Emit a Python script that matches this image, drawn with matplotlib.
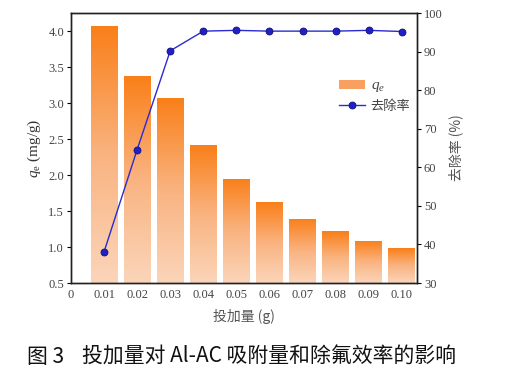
import numpy as np
import matplotlib
matplotlib.use("Agg")
import matplotlib.pyplot as plt
from matplotlib.colors import LinearSegmentedColormap
from matplotlib.patches import Patch
from matplotlib.lines import Line2D

dose = [0.01, 0.02, 0.03, 0.04, 0.05, 0.06, 0.07, 0.08, 0.09, 0.10]
qe = [4.07, 3.38, 3.07, 2.42, 1.95, 1.62, 1.39, 1.22, 1.09, 0.98]
removal = [38.1, 64.6, 90.2, 95.3, 95.5, 95.3, 95.3, 95.3, 95.5, 95.2]
xticks = [0, 0.01, 0.02, 0.03, 0.04, 0.05, 0.06, 0.07, 0.08, 0.09, 0.10]
xticklabels = ["0", "0.01", "0.02", "0.03", "0.04", "0.05", "0.06", "0.07", "0.08", "0.09", "0.10"]
left_ticks = [0.5, 1.0, 1.5, 2.0, 2.5, 3.0, 3.5, 4.0]
right_ticks = [30, 40, 50, 60, 70, 80, 90, 100]

plt.rcParams["mathtext.fontset"] = "custom"
plt.rcParams["mathtext.rm"] = "Liberation Serif"
plt.rcParams["mathtext.it"] = "Liberation Serif:italic"

serif = ["Liberation Serif", "Noto Sans CJK SC"]
cjk = ["Noto Sans CJK SC", "Liberation Serif"]
tcol = "#444444"

fig = plt.figure(figsize=(5.08, 3.76), dpi=100)
ax = fig.add_axes([71/508, 1 - 283/376, (417-71)/508, (283-13)/376])
ax.set_xlim(0, 0.1046)
ax.set_ylim(0.5, 4.25)

cmap = LinearSegmentedColormap.from_list("og", ["#FBD5BA", "#F9B380", "#FA7F18"])
grad = np.linspace(0, 1, 256).reshape(-1, 1)
bars = ax.bar(dose, qe, width=0.0081, bottom=0, color="none", edgecolor="none")
for b in bars:
    x0, y0 = b.get_x(), 0.5
    w, h = b.get_width(), b.get_height()
    im = ax.imshow(grad, cmap=cmap, aspect="auto", origin="lower",
                   extent=[x0, x0 + w, y0, h], zorder=1)
    im.set_clip_path(b)

ax.set_xticks(xticks)
ax.set_xticklabels(xticklabels, family=serif, fontsize=9, color=tcol)
ax.set_yticks(left_ticks)
ax.set_yticklabels([f"{v:.1f}" for v in left_ticks], family=serif, fontsize=9, color=tcol)
ax.tick_params(axis="x", length=0, pad=4)
ax.tick_params(axis="y", length=3, width=0.8, direction="out", pad=2)
ax.set_xlabel("投加量 (g)", family=cjk, fontsize=10, color="#555555", labelpad=6)
ax.set_ylabel(r"$q_\mathrm{e}$ (mg/g)", family=serif, fontsize=11, color="#333333", labelpad=4)
for s in ax.spines.values():
    s.set_linewidth(1.0)
    s.set_color("#222222")

ax2 = ax.twinx()
ax2.set_ylim(30, 100)
ax2.plot(dose, removal, color="#2b2bd0", lw=1.0, marker="o", ms=5,
         mfc="#2020c8", mec="#10107a", mew=0.6, zorder=5)
ax2.set_yticks(right_ticks)
ax2.set_yticklabels([str(v) for v in right_ticks], family=serif, fontsize=9, color=tcol)
ax2.tick_params(axis="y", length=3, width=0.8, direction="out", pad=2)
ax2.set_ylabel("去除率 (%)", family=cjk, fontsize=10, color="#555555", labelpad=4)
for s in ax2.spines.values():
    s.set_linewidth(1.0)
    s.set_color("#222222")

handles = [Patch(facecolor="#F9A060", edgecolor="none"),
           Line2D([0], [0], color="#2b2bd0", lw=1.0, marker="o", ms=5,
                  mfc="#2020c8", mec="#10107a", mew=0.6)]
leg = ax2.legend(handles, [r"$q_e$", "去除率"], loc="upper left",
                 bbox_to_anchor=(0.74, 0.81), frameon=False,
                 prop={"family": cjk, "size": 9.5}, handlelength=2.0,
                 handletextpad=0.4, labelspacing=0.45)
for t in leg.get_texts():
    t.set_color("#444444")
leg.get_texts()[0].set_fontsize(11)

fig.text(27/508, 1 - 357/376, "图 3", family=cjk, fontsize=15, color="#111111",
         va="center", ha="left", weight="medium")
fig.text(82/508, 1 - 357/376, "投加量对 Al-AC 吸附量和除氟效率的影响", family=cjk,
         fontsize=15, color="#111111", va="center", ha="left", weight="medium")

fig.savefig("out.png", dpi=100)
